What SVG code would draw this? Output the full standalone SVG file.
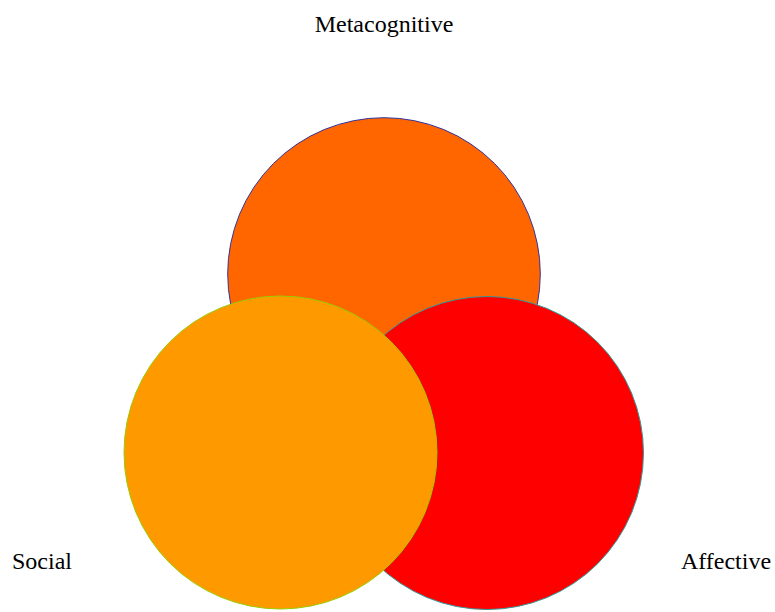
<svg xmlns="http://www.w3.org/2000/svg" width="775" height="612" viewBox="0 0 775 612">
  <style>
    .label { font-family: "Liberation Serif", "Times New Roman", serif; font-size: 24px; fill: #000000; }
    .ring { stroke-width: 1; }
  </style>
  <rect width="775" height="612" fill="#ffffff"/>
  <g id="metacognitive">
    <circle class="ring" cx="384" cy="274" r="156.3" fill="#FF6600" stroke="#333399"/>
    <text class="label" x="384" y="32" text-anchor="middle">Metacognitive</text>
  </g>
  <g id="affective">
    <circle class="ring" cx="487" cy="453" r="156.5" fill="#FF0000" stroke="#339999"/>
    <text class="label" x="726" y="569" text-anchor="middle">Affective</text>
  </g>
  <g id="social">
    <circle class="ring" cx="280.5" cy="452.5" r="156.5" fill="#FF9900" stroke="#99CC00"/>
    <text class="label" x="12" y="569">Social</text>
  </g>
  <g id="connectors"/>
</svg>
